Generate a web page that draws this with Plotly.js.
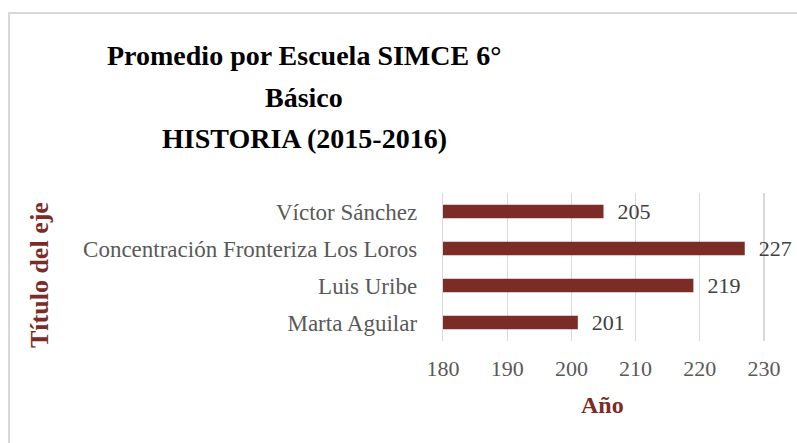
<!DOCTYPE html>
<html>
<head>
<meta charset="utf-8">
<script src="https://cdn.plot.ly/plotly-3.0.1.min.js"></script>
<style>html,body{margin:0;padding:0;background:#fff;}#chart{width:797px;height:443px;}</style>
</head>
<body>
<div id="chart"></div>
<script>
// Data
const schools = ["Víctor Sánchez", "Concentración Fronteriza Los Loros", "Luis Uribe", "Marta Aguilar"];
const scores = [205, 227, 219, 201];
const xTicks = [180, 190, 200, 210, 220, 230];
const titleLines = ["Promedio por Escuela SIMCE 6°", "Básico", "HISTORIA (2015-2016)"];
const xTitle = "Año";
const yTitle = "Título del eje";

const W = 797, H = 443;
const M = {l: 443, r: 0, t: 193, b: 102};
const pw = W - M.l - M.r, ph = H - M.t - M.b;
const px = x => (x - M.l) / pw;
const py = y => (H - M.b - y) / ph;

const serif = "Liberation Serif, Times New Roman, serif";
const red = "#7b2c27";

const trace = {
  type: "bar",
  orientation: "h",
  y: schools,
  x: scores,
  width: 0.36,
  marker: {color: red},
  text: scores.map(String),
  texttemplate: "\u00a0\u00a0%{x}",
  textposition: "outside",
  constraintext: "none",
  cliponaxis: false,
  textfont: {family: serif, size: 22, color: "#404040"},
  hoverinfo: "none"
};

const titleY = [55, 97, 138];
const annotations = titleLines.map((t, i) => ({
  text: "<b>" + t + "</b>",
  xref: "paper", yref: "paper",
  x: px(304), y: py(titleY[i]),
  xanchor: "center", yanchor: "middle",
  showarrow: false,
  font: {family: serif, size: 28, color: "#000"}
}));
annotations.push({
  text: "<b>" + xTitle + "</b>",
  xref: "paper", yref: "paper",
  x: px(602), y: py(405),
  xanchor: "center", yanchor: "middle",
  showarrow: false,
  font: {family: serif, size: 24, color: red}
});
annotations.push({
  text: "<b>" + yTitle + "</b>",
  xref: "paper", yref: "paper",
  x: px(39), y: py(275),
  xanchor: "center", yanchor: "middle",
  textangle: -90,
  showarrow: false,
  font: {family: serif, size: 26, color: red}
});

const layout = {
  width: W, height: H,
  margin: M,
  paper_bgcolor: "#fff",
  plot_bgcolor: "#fff",
  showlegend: false,
  xaxis: {
    range: [180, 180 + pw / 6.42],
    tickvals: xTicks,
    ticktext: xTicks.map(String),
    showgrid: true,
    gridcolor: "#d9d9d9",
    gridwidth: 1.3,
    zeroline: false,
    showline: false,
    ticks: "",
    ticklabelstandoff: 12,
    tickfont: {family: serif, size: 22, color: "#595959"},
    fixedrange: true
  },
  yaxis: {
    type: "category",
    autorange: "reversed",
    showgrid: false,
    zeroline: false,
    showline: true,
    linecolor: "#d9d9d9",
    linewidth: 1.3,
    ticks: "",
    ticklabelstandoff: 20,
    tickfont: {family: serif, size: 23, color: "#595959"},
    fixedrange: true
  },
  bargap: 0.64,
  annotations: annotations,
  shapes: [{
    type: "rect", xref: "paper", yref: "paper",
    x0: px(9), x1: px(W + 20), y0: py(H + 20), y1: py(13),
    line: {color: "#d9d9d9", width: 2},
    fillcolor: "rgba(0,0,0,0)",
    layer: "below"
  }]
};

Plotly.newPlot("chart", [trace], layout, {displayModeBar: false, staticPlot: true});
</script>
</body>
</html>
